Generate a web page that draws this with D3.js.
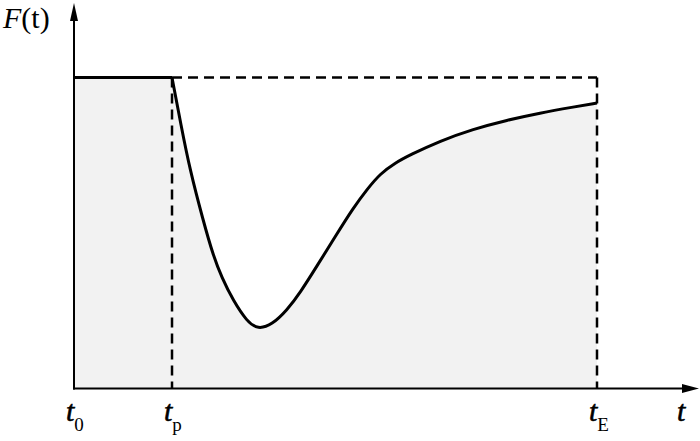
<!DOCTYPE html>
<html>
<head>
<meta charset="utf-8">
<script src="https://cdn.jsdelivr.net/npm/d3@7"></script>
<style>
  body { margin: 0; background: white; }
  svg { display: block; }
  text { font-family: "Liberation Serif", "Times New Roman", Times, serif; }
</style>
</head>
<body>
<div id="chart"></div>
<script>
// time in arbitrary units (t0 = 0, tE = 100), performance F normalised to 1
const levelT = [0, 18.74]
const levelF = [1, 1]

const curveT = [18.74, 20.46, 22.18, 24.67, 26.58, 28.3, 30.4, 33.08, 35.18, 37.86, 40.73, 43.21, 46.46, 49.9, 53.35, 56.21, 58.51, 61.38, 64.24, 69.98, 76.29, 82.79, 89.1, 95.41, 100]
const curveF = [1, 0.847, 0.702, 0.542, 0.429, 0.355, 0.284, 0.215, 0.19, 0.205, 0.252, 0.307, 0.394, 0.487, 0.58, 0.644, 0.69, 0.725, 0.751, 0.796, 0.834, 0.863, 0.886, 0.905, 0.918]

const tickT = [0, 18.74, 100]
const tickSub = ['0', 'p', 'E']

const width = 700
const height = 441

const xScale = d3.scaleLinear().domain([0, 100]).range([74, 597])
const yScale = d3.scaleLinear().domain([0, 1]).range([388.5, 77.5])
const xEnd = 699
const yEnd = 3

const svg = d3.select('#chart').append('svg')
  .attr('width', width)
  .attr('height', height)

const levelPts = levelT.map((t, i) => ({ t, f: levelF[i] }))
const curvePts = curveT.map((t, i) => ({ t, f: curveF[i] }))

const valueline = d3.line()
  .x(d => xScale(d.t))
  .y(d => yScale(d.f))

const curvePath = valueline.curve(d3.curveBasis)(curvePts)

// shaded area under the performance curve
const areaPath = 'M' + xScale(0) + ',' + yScale(0) +
  'L' + xScale(0) + ',' + yScale(1) +
  'L' + curvePath.slice(1) +
  'L' + xScale(100) + ',' + yScale(0) + 'Z'

svg.append('path')
  .attr('d', areaPath)
  .attr('fill', '#f2f2f2')

// dashed reference box
const tp = tickT[1]
const tE = tickT[2]
const dashed = [
  [[tp, 1], [tE, 1]],
  [[tE, 1], [tE, 0]],
  [[tp, 1], [tp, 0]],
]
dashed.forEach(seg => {
  svg.append('line')
    .attr('x1', xScale(seg[0][0]))
    .attr('y1', yScale(seg[0][1]))
    .attr('x2', xScale(seg[1][0]))
    .attr('y2', yScale(seg[1][1]))
    .attr('stroke', 'black')
    .attr('stroke-width', 2.5)
    .attr('stroke-dasharray', '10,6')
})

// performance line
svg.append('path')
  .attr('d', d3.line().x(d => xScale(d.t)).y(d => yScale(d.f))(levelPts))
  .attr('stroke', 'black')
  .attr('stroke-width', 3)
  .attr('fill', 'none')

svg.append('path')
  .attr('d', curvePath)
  .attr('stroke', 'black')
  .attr('stroke-width', 3)
  .attr('fill', 'none')
  .attr('stroke-linejoin', 'round')

// axes with arrows
const x0 = xScale(0)
const y0 = yScale(0)
svg.append('line')
  .attr('x1', x0).attr('y1', y0 + 1)
  .attr('x2', x0).attr('y2', yEnd + 10)
  .attr('stroke', 'black')
  .attr('stroke-width', 2)
svg.append('line')
  .attr('x1', x0 - 1).attr('y1', y0)
  .attr('x2', xEnd - 10).attr('y2', y0)
  .attr('stroke', 'black')
  .attr('stroke-width', 2)
svg.append('path')
  .attr('d', 'M' + x0 + ',' + yEnd + 'L' + (x0 - 4) + ',' + (yEnd + 18) + 'L' + (x0 + 4) + ',' + (yEnd + 18) + 'Z')
  .attr('fill', 'black')
svg.append('path')
  .attr('d', 'M' + xEnd + ',' + y0 + 'L' + (xEnd - 17) + ',' + (y0 - 4.5) + 'L' + (xEnd - 17) + ',' + (y0 + 4.5) + 'Z')
  .attr('fill', 'black')

// labels
const yLabel = svg.append('text')
  .attr('x', 3)
  .attr('y', 28)
  .attr('font-size', 30)
yLabel.append('tspan').attr('font-style', 'italic').text('F')
yLabel.append('tspan').text('(t)')

tickT.forEach((t, i) => {
  const lab = svg.append('text')
    .attr('x', xScale(t) - 8)
    .attr('y', 421)
  lab.append('tspan')
    .attr('font-style', 'italic')
    .attr('font-size', 30)
    .attr('stroke', 'black')
    .attr('stroke-width', 0.6)
    .text('t')
  lab.append('tspan')
    .attr('font-size', 19)
    .attr('dy', 10)
    .text(tickSub[i])
})

svg.append('text')
  .attr('x', 677)
  .attr('y', 421)
  .attr('font-style', 'italic')
  .attr('font-size', 30)
  .attr('stroke', 'black')
  .attr('stroke-width', 0.6)
  .text('t')
</script>
</body>
</html>
